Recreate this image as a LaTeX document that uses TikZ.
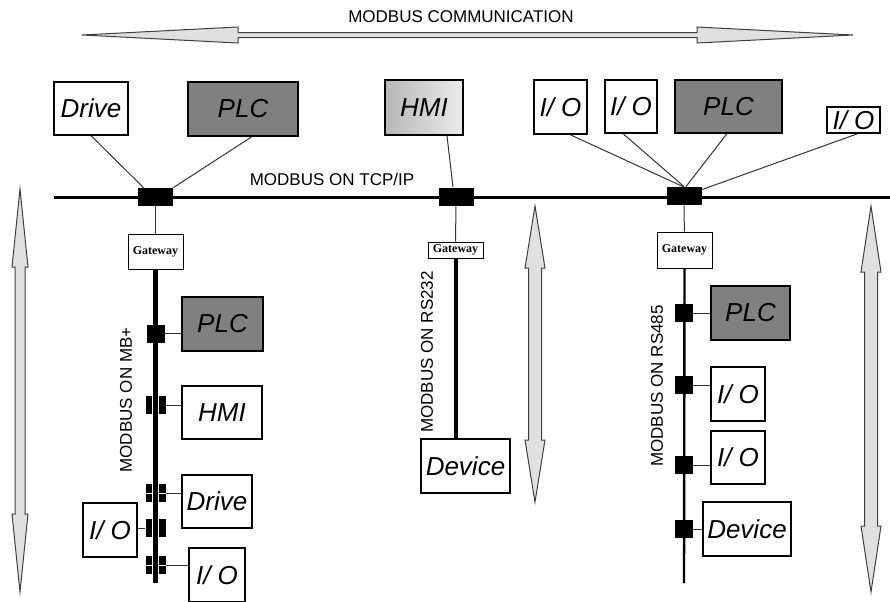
\documentclass[tikz,border=0pt]{standalone}
\usepackage{fontspec}
\setmainfont{Liberation Sans}
\newfontfamily\gwfont{Liberation Serif}
\usetikzlibrary{positioning}

\tikzset{
  dev/.style={draw, line width=0.6pt, fill=white, inner sep=0pt, font=\fontsize{13}{13}\selectfont\itshape},
  plcbox/.style={dev, fill=black!50},
  hmibox/.style={dev, left color=black!28, right color=black!8},
  gwbox/.style={draw, line width=0.5pt, fill=white, inner sep=0pt, font=\gwfont\bfseries\fontsize{6}{6}\selectfont},
  hub/.style={fill=black, minimum width=17.5pt, minimum height=9pt, inner sep=0pt},
  tap/.style={fill=black, minimum width=9pt, minimum height=9pt, inner sep=0pt},
  bartap/.style={tap, minimum width=10pt},
  gap/.style={white, line width=0.5pt},
  wire/.style={line width=0.5pt, black!80},
  buslabel/.style={font=\fontsize{8.5}{8.5}\selectfont},
  bigarrow/.style={draw=black!75, line width=0.5pt, fill=black!12},
}

% fat double arrows: x, top, bottom, head length, head half width, shaft half width
\newcommand{\vdarrow}[6]{%
  \draw[bigarrow] (#1,#2) -- (#1+#5,#2+#4) -- (#1+#6,#2+#4) -- (#1+#6,#3-#4)
    -- (#1+#5,#3-#4) -- (#1,#3) -- (#1-#5,#3-#4) -- (#1-#6,#3-#4)
    -- (#1-#6,#2+#4) -- (#1-#5,#2+#4) -- cycle;}
% y, left, right, head length, head half width, shaft half width
\newcommand{\hdarrow}[6]{%
  \draw[bigarrow] (#2,#1) -- (#2+#4,#1-#5) -- (#2+#4,#1-#6) -- (#3-#4,#1-#6)
    -- (#3-#4,#1-#5) -- (#3,#1) -- (#3-#4,#1+#5) -- (#3-#4,#1+#6)
    -- (#2+#4,#1+#6) -- (#2+#4,#1+#5) -- cycle;}

\begin{document}
\begin{tikzpicture}[x=0.5pt, y=-0.5pt]
  \useasboundingbox (0,0) rectangle (890,601);

  % Title and communication arrow
  \node[font=\fontsize{8.5}{8.5}\selectfont] (title) at (461,17) {MODBUS COMMUNICATION};
  \hdarrow{35}{82}{853}{156}{8}{2.5}

  % Side arrows
  \vdarrow{20}{189}{592}{78}{8}{5}
  \vdarrow{535}{206}{502}{62}{10}{6.5}
  \vdarrow{871}{206}{592}{66}{10}{6.5}

  % Devices on TCP/IP
  \node[dev, minimum width=37pt, minimum height=26.5pt] (drive1) at (91,108.5) {Drive};
  \node[plcbox, minimum width=55pt, minimum height=27pt] (plc1) at (243,109) {PLC};
  \node[hmibox, minimum width=39pt, minimum height=27.5pt] (hmi1) at (424,107.5) {HMI};
  \node[dev, minimum width=26.5pt, minimum height=27pt] (io1) at (560.5,107) {I/ O};
  \node[dev, minimum width=26pt, minimum height=26.5pt] (io2) at (631,106.5) {I/ O};
  \node[plcbox, minimum width=53.5pt, minimum height=26.5pt] (plc2) at (728.5,106.5) {PLC};
  \node[dev, minimum width=26.5pt, minimum height=13pt] (io3) at (853.5,120) {I/ O};

  % TCP/IP bus
  \coordinate (busW) at (54,197);
  \coordinate (busE) at (890,197);
  \draw[line width=1.5pt] (busW) -- (busE);
  \node[buslabel] (lbltcp) at (332,179) {MODBUS ON TCP/IP};
  \node[hub] (j1) at (155.5,197) {};
  \node[hub] (j2) at (456,196.5) {};
  \node[hub] (j3) at (684,196) {};

  \draw[wire] (drive1.south) -- ([xshift=-6pt]j1.north);
  \draw[wire] ([xshift=4.5pt]plc1.south) -- (j1.north east);
  \draw[wire] ([xshift=11.5pt]hmi1.south) -- ([xshift=-1.5pt]j2.north);
  \draw[wire] ([xshift=4.75pt]io1.south) -- ([xshift=-0.5pt]j3.north);
  \draw[wire] ([xshift=-4pt]io2.south) -- (j3.north);
  \draw[wire] ([xshift=-0.75pt]plc2.south) -- ([xshift=1pt]j3.north);
  \draw[wire] ([xshift=2.25pt]io3.south) -- ([yshift=-1.5pt]j3.north east);

  % Gateways
  \node[gwbox, minimum width=27.5pt, minimum height=17.5pt] (gw1) at (155.5,251.5) {Gateway};
  \node[gwbox, minimum width=27.5pt, minimum height=8pt] (gw2) at (455.5,250) {Gateway};
  \node[gwbox, minimum width=27.5pt, minimum height=18pt] (gw3) at (684.5,250) {Gateway};
  \draw[wire] (j1) -- (gw1);
  \draw[wire] (j2) -- (gw2);
  \draw[wire] (j3) -- (gw3);

  % MB+ branch
  \coordinate (mbend) at (155.5,583);
  \draw[line width=2.5pt] (gw1.south) -- (mbend);
  \node[buslabel, rotate=90] (lblmb) at (126,400) {MODBUS ON MB+};
  \node[plcbox, minimum width=40.5pt, minimum height=27pt] (plc3) at (222.5,324) {PLC};
  \node[dev, minimum width=40pt, minimum height=26.5pt] (hmi2) at (222,412.5) {HMI};
  \node[dev, minimum width=35pt, minimum height=26.5pt] (drive2) at (217,501.5) {Drive};
  \node[dev, minimum width=27pt, minimum height=27pt] (io4) at (110,530) {I/ O};
  \node[dev, minimum width=28pt, minimum height=27pt] (io5) at (217,575) {I/ O};
  \node[tap] (t1) at (155.5,333.5) {};
  \node[bartap] (t2) at (155.5,405) {};
  \node[bartap] (t3) at (155.5,493) {};
  \node[bartap] (t4) at (155.5,528) {};
  \node[bartap] (t5) at (155.5,565) {};
  \foreach \t in {t2,t3,t4,t5}
    \draw[gap] ([xshift=-1.6pt]\t.north) -- ([xshift=-1.6pt]\t.south)
               ([xshift=1.6pt]\t.north) -- ([xshift=1.6pt]\t.south);
  \foreach \t in {t3,t5}
    \draw[gap] (\t.west) -- ([xshift=-1.6pt]\t.center)
               ([xshift=1.6pt]\t.center) -- (\t.east);
  \draw[wire] (t1.east) -- (t1.east -| plc3.west);
  \draw[wire] (t2.east) -- (t2.east -| hmi2.west);
  \draw[wire] (t3.east) -- (t3.east -| drive2.west);
  \draw[wire] (t4.west) -- (t4.west -| io4.east);
  \draw[wire] (t5.east) -- (t5.east -| io5.west);

  % RS232 branch
  \node[dev, minimum width=44.5pt, minimum height=27pt] (dev1) at (465.5,466) {Device};
  \draw[line width=2pt] (gw2.south) -- (gw2.south |- dev1.north);
  \node[buslabel, rotate=90] (lblrs232) at (427,352) {MODBUS ON RS232};

  % RS485 branch
  \coordinate (rsend) at (684,583);
  \draw[line width=1.2pt] (gw3.south) -- (rsend);
  \node[buslabel, rotate=90] (lblrs485) at (657,386) {MODBUS ON RS485};
  \node[plcbox, minimum width=39.5pt, minimum height=27pt] (plc4) at (750.5,313) {PLC};
  \node[dev, minimum width=27pt, minimum height=27pt] (io6) at (738,394) {I/ O};
  \node[dev, minimum width=27pt, minimum height=26.5pt] (io7) at (738,457.5) {I/ O};
  \node[dev, minimum width=44pt, minimum height=27pt] (dev2) at (747,529) {Device};
  \node[tap] (r1) at (684,313) {};
  \node[tap] (r2) at (684,385) {};
  \node[tap] (r3) at (684,465) {};
  \node[tap] (r4) at (684,529) {};
  \draw[wire] (r1.east) -- (r1.east -| plc4.west);
  \draw[wire] (r2.east) -- (r2.east -| io6.west);
  \draw[wire] (r3.east) -- (r3.east -| io7.west);
  \draw[wire] (r4.east) -- (r4.east -| dev2.west);
\end{tikzpicture}
\end{document}
